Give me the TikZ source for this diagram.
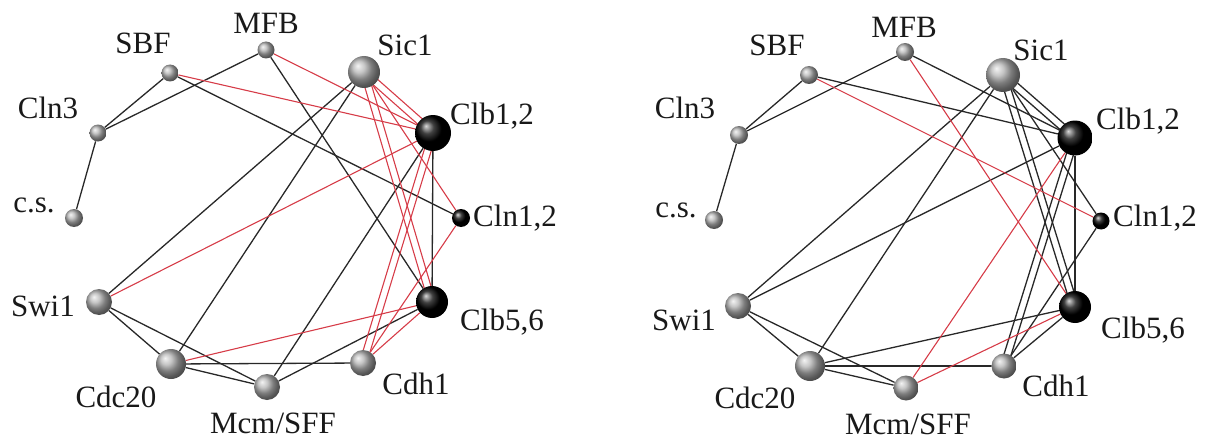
\documentclass[tikz,border=0pt]{standalone}
\usepackage{fontspec}
\setmainfont{Liberation Serif}
\usetikzlibrary{calc,backgrounds}
\definecolor{redl}{RGB}{214,60,72}
\definecolor{blkl}{RGB}{40,40,40}
\tikzset{
  gball/.style={circle, inner sep=0pt, minimum size=#1, shading=ball, ball color=gray!60},
  kball/.style={circle, inner sep=0pt, minimum size=#1, shading=ball, ball color=black},
  lab/.style={font=\fontsize{31}{36}\selectfont, inner sep=0pt, text=black!90},
  bedge/.style={draw=blkl, line width=1.3pt},
  redge/.style={draw=redl, line width=1.1pt}
}
\begin{document}
\begin{tikzpicture}[x=1pt,y=-1pt]
\useasboundingbox (0,0) rectangle (1216,444);
% ---------- left graph ----------
\node[gball=17pt] (LMFB) at (266,50) {};
\node[gball=17pt] (LSBF) at (170,73) {};
\node[gball=32pt] (LSic1) at (364,72) {};
\node[gball=17pt] (LCln3) at (98,133) {};
\node[kball=36pt] (LClb12) at (433,133) {};
\node[gball=18pt] (Lcs) at (74,218) {};
\node[kball=18pt] (LCln12) at (461,218) {};
\node[gball=26pt] (LSwi1) at (99,302) {};
\node[kball=32pt] (LClb56) at (432,302) {};
\node[gball=30pt] (LCdc20) at (171,364) {};
\node[gball=26pt] (LCdh1) at (363,363) {};
\node[gball=26pt] (LMcm) at (267,387) {};
\node[lab] (tLMFB) at (266,23) {MFB};
\node[lab] (tLSBF) at (143,43) {SBF};
\node[lab] (tLSic1) at (405,45) {Sic1};
\node[lab] (tLCln3) at (48,108) {Cln3};
\node[lab] (tLClb12) at (492,116) {Clb1,2};
\node[lab] (tLcs) at (34,205) {c.s.};
\node[lab] (tLCln12) at (515,218) {Cln1,2};
\node[lab] (tLClb56) at (502,322) {Clb5,6};
\node[lab] (tLSwi1) at (43,306) {Swi1};
\node[lab] (tLCdc20) at (116,397) {Cdc20};
\node[lab] (tLCdh1) at (416,384) {Cdh1};
\node[lab] (tLMcm) at (273,423) {Mcm/SFF};
% ---------- right graph ----------
\node[gball=18pt] (RMFB) at (905,52) {};
\node[gball=18pt] (RSBF) at (809,75) {};
\node[gball=34pt] (RSic1) at (1003,75) {};
\node[gball=18pt] (RCln3) at (739,135) {};
\node[kball=35pt] (RClb12) at (1075,138) {};
\node[gball=18pt] (Rcs) at (714,220) {};
\node[kball=17pt] (RCln12) at (1101,221) {};
\node[gball=26pt] (RSwi1) at (738,306) {};
\node[kball=32pt] (RClb56) at (1075,307) {};
\node[gball=30pt] (RCdc20) at (810,366) {};
\node[gball=25pt] (RCdh1) at (1004,366) {};
\node[gball=25pt] (RMcm) at (906,388) {};
\node[lab] (tRMFB) at (904,27) {MFB};
\node[lab] (tRSBF) at (777,45) {SBF};
\node[lab] (tRSic1) at (1041,50) {Sic1};
\node[lab] (tRCln3) at (685,108) {Cln3};
\node[lab] (tRClb12) at (1138,121) {Clb1,2};
\node[lab] (tRcs) at (676,210) {c.s.};
\node[lab] (tRCln12) at (1155,218) {Cln1,2};
\node[lab] (tRSwi1) at (684,320) {Swi1};
\node[lab] (tRClb56) at (1143,330) {Clb5,6};
\node[lab] (tRCdc20) at (755,398) {Cdc20};
\node[lab] (tRCdh1) at (1056,386) {Cdh1};
\node[lab] (tRMcm) at (908,424) {Mcm/SFF};
\begin{pgfonlayer}{background}
% left black
\foreach \a/\b in {Lcs/LCln3, LCln3/LSBF, LCln3/LMFB, LSBF/LCln12, LMFB/LClb56,
  LSic1/LSwi1, LSic1/LCdc20, LClb12/LMcm, LClb12/LClb56, LSwi1/LCdc20,
  LSwi1/LMcm, LCdc20/LMcm, LCdc20/LCdh1, LMcm/LClb56}
  \draw[bedge] (\a) -- (\b);
% left red
\foreach \a/\b in {LSBF/LClb12, LMFB/LClb12, LSic1/LCln12, LClb12/LSwi1,
  LCdc20/LClb56, LCln12/LCdh1, LClb56/LCdh1}
  \draw[redge] (\a) -- (\b);
\foreach \a/\b in {LSic1/LClb12, LSic1/LClb56, LClb12/LCdh1}{
  \draw[redge] ($(\a)!3.5pt!90:(\b)$) -- ($(\b)!3.5pt!-90:(\a)$);
  \draw[redge] ($(\a)!3.5pt!-90:(\b)$) -- ($(\b)!3.5pt!90:(\a)$);
}
% right black
\foreach \a/\b in {Rcs/RCln3, RCln3/RSBF, RCln3/RMFB, RSBF/RClb12, RMFB/RClb12,
  RSic1/RSwi1, RSic1/RCdc20, RSic1/RCln12, RClb12/RClb56, RClb12/RSwi1,
  RCln12/RCdh1, RClb56/RCdh1, RClb56/RCdc20, RSwi1/RCdc20, RSwi1/RMcm,
  RCdc20/RMcm, RCdc20/RCdh1}
  \draw[bedge] (\a) -- (\b);
\foreach \a/\b in {RSic1/RClb12, RSic1/RClb56, RClb12/RCdh1}{
  \draw[bedge] ($(\a)!3.5pt!90:(\b)$) -- ($(\b)!3.5pt!-90:(\a)$);
  \draw[bedge] ($(\a)!3.5pt!-90:(\b)$) -- ($(\b)!3.5pt!90:(\a)$);
}
% right red
\foreach \a/\b in {RSBF/RCln12, RMFB/RClb56, RClb12/RMcm, RClb56/RMcm}
  \draw[redge] (\a) -- (\b);
\end{pgfonlayer}
\end{tikzpicture}
\end{document}
